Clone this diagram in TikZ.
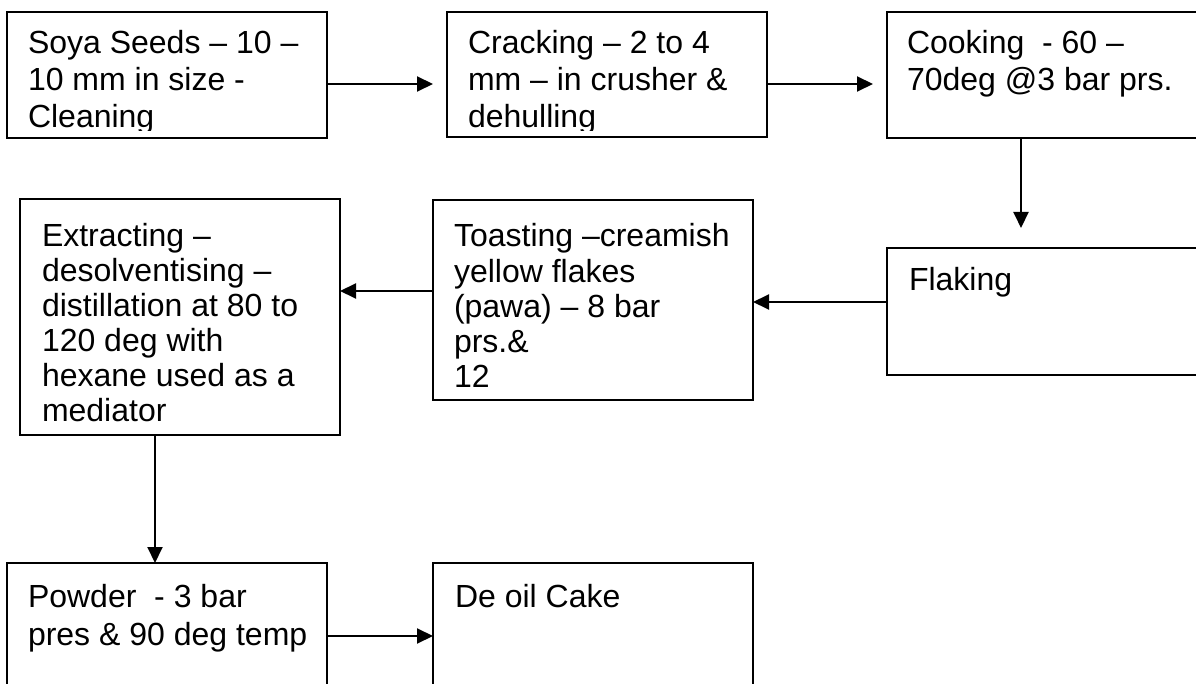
\documentclass[tikz,border=0pt]{standalone}
\usepackage{fontspec}
\setmainfont{Liberation Sans}
\usetikzlibrary{arrows.meta}
\newcommand{\boxlines}[2]{\vtop{\baselineskip=#1pt\lineskiplimit=-100pt\lineskip=0pt\relax #2}}
\begin{document}
\begin{tikzpicture}[x=1pt,y=-1pt,
  stepbox/.style={draw=black,line width=1.6pt,minimum width=320pt,inner sep=0pt,outer sep=0pt,anchor=north west},
  txt/.style={anchor=base west,inner sep=0pt,outer sep=0pt,font=\fontsize{32}{38}\selectfont},
  arr/.style={line width=2pt,-{Triangle[length=16pt,width=15pt]}}]
\useasboundingbox (0,0) rectangle (1196,684);
\fill[white] (0,0) rectangle (1196,684);
% boxes
\node[stepbox,minimum height=126pt] (b1) at (7,12) {};
\node[stepbox,minimum height=125pt] (b2) at (447,12) {};
\node[stepbox,minimum height=126pt] (b3) at (887,12) {};
\node[stepbox,minimum height=127pt] (fl) at (887,248) {};
\node[stepbox,minimum height=200pt] (to) at (433,200) {};
\node[stepbox,minimum height=236pt] (ex) at (20,199) {};
\node[stepbox,minimum height=146pt] (po) at (7,563) {};
\node[stepbox,minimum height=146pt] (de) at (433,563) {};
% texts
\begin{scope}
\clip (0,0) rectangle (880,131);
\node[txt] (t1) at (28,54) {\boxlines{37}{\hbox{Soya Seeds – 10 –}\hbox{10 mm in size -}\hbox{Cleaning}}};
\node[txt] (t2) at (468,54) {\boxlines{37}{\hbox{Cracking – 2 to 4}\hbox{mm – in crusher \&}\hbox{dehulling}}};
\end{scope}
\node[txt] (t3) at (907,54) {\boxlines{37}{\hbox{Cooking\ \ - 60 –}\hbox{70deg @3 bar prs.}}};
\node[txt] (tf) at (909,291) {Flaking};
\node[txt] (tt) at (454,247) {\boxlines{35.2}{\hbox{Toasting –creamish}\hbox{yellow flakes}\hbox{(pawa) – 8 bar}\hbox{prs.\&}\hbox{12}}};
\node[txt] (te) at (42,247) {\boxlines{35}{\hbox{Extracting –}\hbox{desolventising –}\hbox{distillation at 80 to}\hbox{120 deg with}\hbox{hexane used as a}\hbox{mediator}}};
\node[txt] (tp) at (28,607) {\boxlines{38}{\hbox{Powder\ \ - 3 bar}\hbox{pres \& 90 deg temp}}};
\node[txt] (td) at (455,607) {De oil Cake};
% connectors
\draw[arr] ([yshift=-9pt]b1.east) -- ([xshift=-14pt,yshift=-9.5pt]b2.west);
\draw[arr] ([yshift=-9.5pt]b2.east) -- ([xshift=-14pt,yshift=-9pt]b3.west);
\draw[arr] ([xshift=-26pt]b3.south) -- ([xshift=-26pt,yshift=20pt]fl.north);
\draw[arr] ([yshift=9.5pt]fl.west) -- ([yshift=-2pt]to.east);
\draw[arr] ([yshift=9pt]to.west) -- ([yshift=26pt]ex.east);
\draw[arr] ([xshift=-25pt]ex.south) -- ([xshift=-12pt]po.north);
\draw[arr] (po.east) -- (de.west);
\end{tikzpicture}
\end{document}
